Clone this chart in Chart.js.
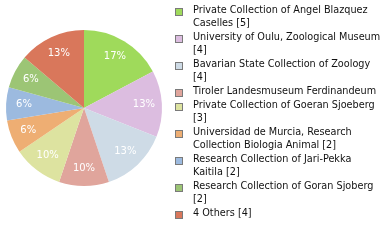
<!DOCTYPE html>
<html>
<head>
<meta charset="utf-8">
<script src="https://cdn.jsdelivr.net/npm/chart.js@4"></script>
<style>
  body { margin: 0; background: #fff; }
  #wrap { width: 380px; height: 240px; position: relative; }
</style>
</head>
<body>
<div id="wrap"><canvas id="pieChart"></canvas></div>
<script>
// collections and their record counts
var names = [
    "Private Collection of Angel Blazquez Caselles",
    "University of Oulu, Zoological Museum",
    "Bavarian State Collection of Zoology",
    "Tiroler Landesmuseum Ferdinandeum",
    "Private Collection of Goeran Sjoeberg",
    "Universidad de Murcia, Research Collection Biologia Animal",
    "Research Collection of Jari-Pekka Kaitila",
    "Research Collection of Goran Sjoberg",
    "4 Others"
];
var counts = [5, 4, 4, 3, 3, 2, 2, 2, 4];
var colors = ["#9fda5b", "#dcbde0", "#cedbe6", "#e0a59c", "#dde3a0",
              "#eeae73", "#9cbadf", "#9cc575", "#d9775b"];

var total = counts.reduce((a, b) => a + b, 0);

// old legend wraps on character count, not pixel width
function wrapChars(text, max) {
    var words = text.split(" ");
    var lines = [];
    var cur = "";
    words.forEach(w => {
        if (cur == "") {
            cur = w;
        } else if ((cur + " " + w).length <= max) {
            cur = cur + " " + w;
        } else {
            lines.push(cur);
            cur = w;
        }
    });
    if (cur != "") lines.push(cur);
    return lines;
}

var sliceLabels = {
    id: "sliceLabels",
    afterDatasetsDraw(chart) {
        var ctx = chart.ctx;
        var meta = chart.getDatasetMeta(0);
        ctx.save();
        ctx.font = "10px 'DejaVu Sans'";
        ctx.fillStyle = "#ffffff";
        ctx.textAlign = "center";
        ctx.textBaseline = "middle";
        meta.data.forEach((arc, i) => {
            var p = arc.getProps(["x", "y", "startAngle", "endAngle", "outerRadius"], true);
            var mid = (p.startAngle + p.endAngle) / 2;
            var r = p.outerRadius * 0.77;
            var pct = Math.floor(counts[i] / total * 100) + "%";
            ctx.fillText(pct, p.x + Math.cos(mid) * r, p.y + Math.sin(mid) * r);
        });
        ctx.restore();
    }
};

var sideLegend = {
    id: "sideLegend",
    afterDraw(chart) {
        var ctx = chart.ctx;
        var lineH = 13;
        var y = 13;
        ctx.save();
        ctx.font = "9.7px 'DejaVu Sans'";
        ctx.textAlign = "left";
        ctx.textBaseline = "alphabetic";
        names.forEach((n, i) => {
            var lines = wrapChars(n + " [" + counts[i] + "]", 37);
            ctx.fillStyle = colors[i];
            ctx.fillRect(175, y - 5, 8, 8);
            ctx.strokeStyle = "#7a7a7a";
            ctx.lineWidth = 1;
            ctx.strokeRect(175.5, y - 4.5, 7, 7);
            ctx.fillStyle = "#111111";
            lines.forEach((l, j) => {
                ctx.fillText(l, 193, y + j * lineH);
            });
            y += lines.length * lineH + 1;
        });
        ctx.restore();
    }
};

var pieChart = new Chart(document.getElementById("pieChart"), {
    type: "pie",
    data: {
        labels: names,
        datasets: [{
            data: counts,
            backgroundColor: colors,
            borderWidth: 0
        }]
    },
    options: {
        responsive: true,
        maintainAspectRatio: false,
        animation: false,
        layout: { padding: { left: 6, top: 30, right: 218, bottom: 54 } },
        plugins: {
            legend: { display: false },
            tooltip: { enabled: false }
        }
    },
    plugins: [sliceLabels, sideLegend]
});
</script>
</body>
</html>
